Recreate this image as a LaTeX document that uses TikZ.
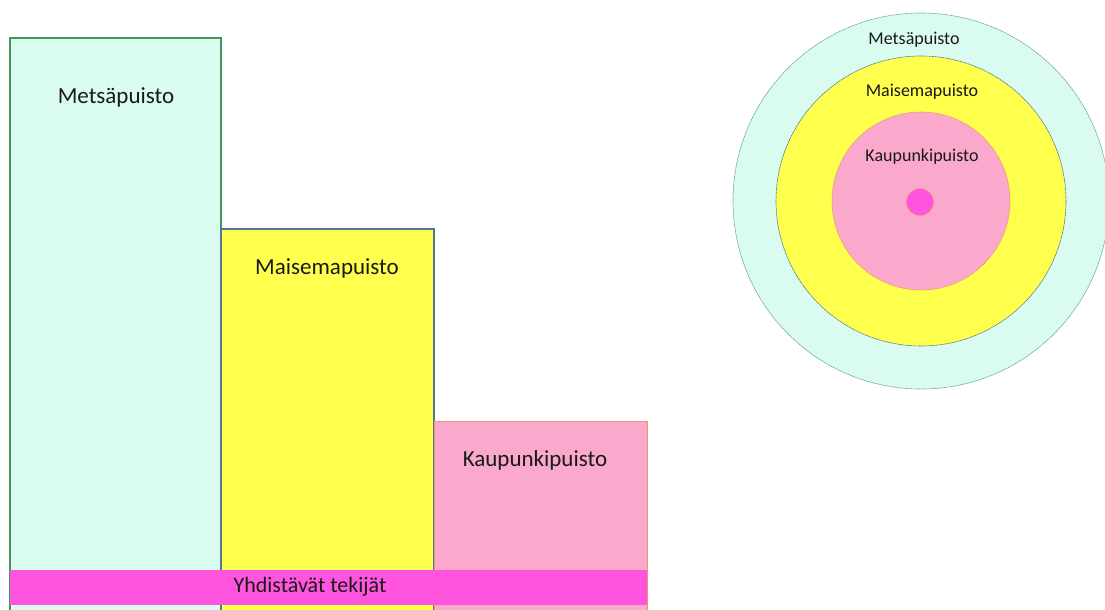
\documentclass[tikz,border=0pt]{standalone}
\usepackage{fontspec}
\setmainfont{Carlito}
\definecolor{mint}{RGB}{218,251,240}
\definecolor{lemon}{RGB}{255,255,77}
\definecolor{rose}{RGB}{250,168,204}
\definecolor{magentabar}{RGB}{255,85,222}
\definecolor{edgegreen}{RGB}{70,150,90}
\definecolor{edgeblue}{RGB}{80,120,150}
\definecolor{edgeorange}{RGB}{240,150,110}
\begin{document}
\begin{tikzpicture}[x=1pt,y=-1pt,
  bigtext/.style={font=\fontsize{23}{26}\selectfont, text=black!90},
  smalltext/.style={font=\fontsize{18}{21}\selectfont, text=black!90},
  ring/.style={line width=0.6pt, dash pattern=on 2pt off 0.6pt}]
\useasboundingbox (0,0) rectangle (1105,610);

% bar chart of park types
\path[fill=mint, draw=edgegreen, line width=1.1pt] (10,38) rectangle (221,615);
\path[fill=lemon, draw=edgeblue, line width=1.1pt] (221,229) rectangle (434,615);
\path[fill=rose, draw=edgeorange, line width=0.8pt] (434,421) rectangle (647,615);
\node[bigtext] (metsa) at (116,97) {Metsäpuisto};
\node[bigtext] (maisema) at (327,268) {Maisemapuisto};
\node[bigtext] (kaupunki) at (535,460) {Kaupunkipuisto};

% common factors across the bottom
\path[fill=magentabar] (10,570) rectangle (647,605);
\node[font=\fontsize{22}{25}\selectfont, text=black!90] (yhd) at (310,587) {Yhdistävät tekijät};

% concentric rings
\coordinate (c) at (921,201);
\path[fill=mint, draw=edgegreen!80, ring] (c) circle (188);
\path[fill=lemon, draw=edgeblue, ring] (c) circle (145);
\path[fill=rose, draw=edgeorange, ring] (c) circle (89);
\path[fill=magentabar, draw=edgeorange, line width=0.6pt] (920,202) circle (13.5);
\node[smalltext] (cm) at (914,40) {Metsäpuisto};
\node[smalltext] (cma) at (922,92) {Maisemapuisto};
\node[smalltext] (cka) at (922,157) {Kaupunkipuisto};
\end{tikzpicture}
\end{document}
